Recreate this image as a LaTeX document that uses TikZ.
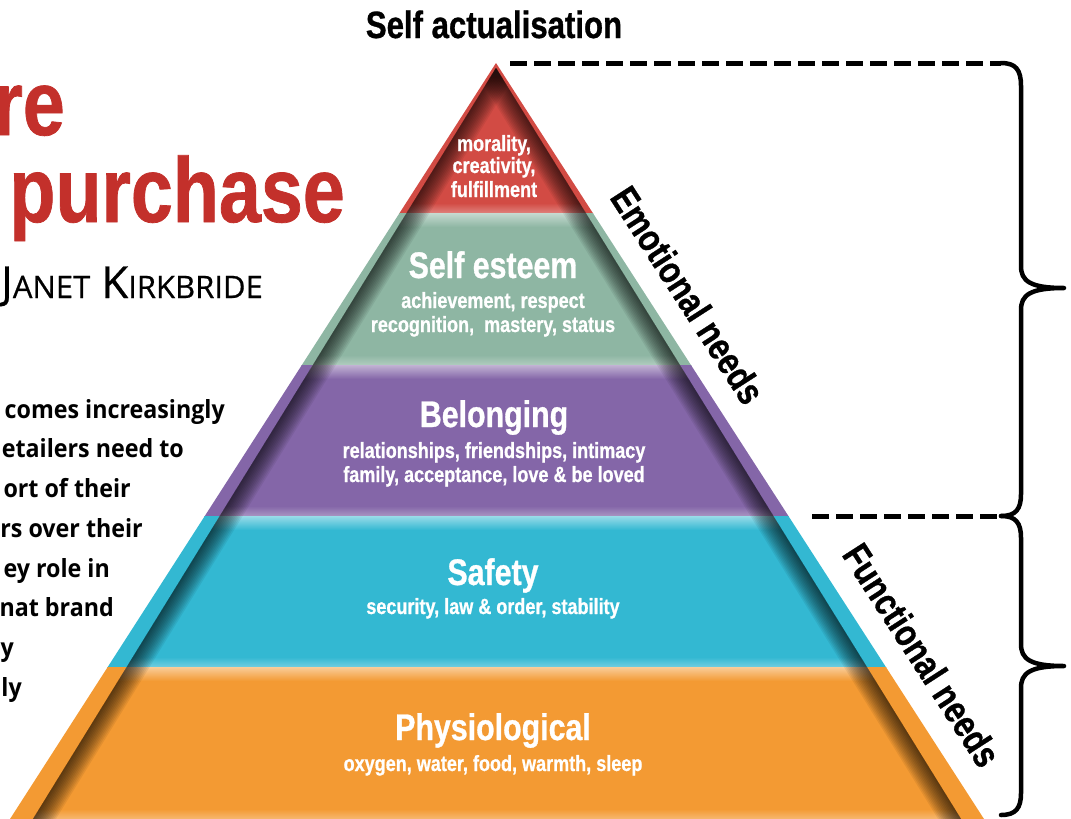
\documentclass[tikz,border=0pt]{standalone}
\usepackage{fontspec}
\newfontfamily\condfont[FakeStretch=0.82, BoldFeatures={FakeBold=0.8}]{Liberation Sans}
\newfontfamily\bodyfont[FakeStretch=0.93]{Open Sans}
\newfontfamily\bylinefont[FakeBold=0.6]{Open Sans}

\definecolor{lvlred}{HTML}{D24B44}
\definecolor{lvlgreen}{HTML}{8EB6A3}
\definecolor{lvlpurple}{HTML}{8466A8}
\definecolor{lvlcyan}{HTML}{33B8D2}
\definecolor{lvlorange}{HTML}{F39A33}
\definecolor{titlered}{HTML}{C3302B}

\tikzset{
  bigcond/.style={inner sep=0pt, font=\condfont\bfseries\fontsize{38}{38}\selectfont},
  lvltitle/.style={inner sep=0pt, text=white, font=\condfont\bfseries\fontsize{37}{37}\selectfont},
  lvlsub/.style={inner sep=0pt, text=white, font=\condfont\bfseries\fontsize{22}{22}\selectfont},
  headline/.style={inner sep=0pt, text=titlered, font=\condfont\bfseries\fontsize{92}{92}\selectfont},
  bodytxt/.style={inner sep=0pt, font=\bodyfont\bfseries\fontsize{25}{25}\selectfont},
  dashline/.style={line width=5pt, dash pattern=on 17pt off 7pt},
  bracestyle/.style={line width=4.5pt, line cap=round, line join=round},
}

% one band of the pyramid: #1 top y, #2 bottom y, #3 colour
\newcommand\pyrlayer[3]{%
  \begin{scope}
    \clip (0,#1) rectangle (1071,#2);
    \fill[#3] (apex) -- (bl) -- (br) -- cycle;
    \begin{scope}
      \clip (ia) -- (ibl) -- (ibr) -- cycle;
      \shade[top color=#3!50!white, bottom color=#3] (0,#1) rectangle (1071,#1+14);
      \shade[top color=#3, bottom color=#3!70!white] (0,#2-10) rectangle (1071,#2);
      \foreach \w in {3,6,...,39} {
        \draw[black, opacity=0.065, line width=\w pt] (ia) -- (ibl);
        \draw[black, opacity=0.065, line width=\w pt] (ia) -- (ibr);
      }
    \end{scope}
  \end{scope}}

\begin{document}
\begin{tikzpicture}[x=1pt,y=-1pt]
\useasboundingbox (0,0) rectangle (1071,819);

% outer and inner outline of the pyramid
\coordinate (apex) at (496,63);
\coordinate (bl) at (10,819);
\coordinate (br) at (984,819);
\coordinate (ia) at (496,68);
\coordinate (ibl) at (7.7,860);
\coordinate (ibr) at (986.4,860);

\pyrlayer{63}{213}{lvlred}
\pyrlayer{213}{365}{lvlgreen}
\pyrlayer{365}{516}{lvlpurple}
\pyrlayer{516}{667}{lvlcyan}
\pyrlayer{667}{819}{lvlorange}

% level labels
\node[lvlsub, anchor=base] (m1) at (494,151) {morality,};
\node[lvlsub, anchor=base] (m2) at (494,173) {creativity,};
\node[lvlsub, anchor=base] (m3) at (494,197) {fulfillment};

\node[lvltitle, anchor=base] (esteem) at (493,278) {Self esteem};
\node[lvlsub, anchor=base] (e1) at (493,308) {achievement, respect};
\node[lvlsub, anchor=base] (e2) at (493,332) {recognition,~ mastery, status};

\node[lvltitle, anchor=base] (belong) at (494,427) {Belonging};
\node[lvlsub, anchor=base] (b1) at (494,458) {relationships, friendships, intimacy};
\node[lvlsub, anchor=base] (b2) at (494,482) {family, acceptance, love \& be loved};

\node[lvltitle, anchor=base] (safety) at (493,585) {Safety};
\node[lvlsub, anchor=base] (s1) at (493,614) {security, law \& order, stability};

\node[lvltitle, anchor=base] (physio) at (493,740) {Physiological};
\node[lvlsub, anchor=base] (p1) at (493,771) {oxygen, water, food, warmth, sleep};

% top label and side labels
\node[bigcond, anchor=base] (selfact) at (494,38) {Self actualisation};
\node[bigcond, rotate=-57.2] (emo) at (688,295) {Emotional needs};
\node[bigcond, rotate=-57.2] (func) at (922,655) {Functional needs};

% dashed guides and braces
\coordinate (d1s) at (510,63);
\coordinate (d1e) at (1001,63);
\coordinate (d2s) at (812,516);
\coordinate (d2e) at (1001,516);
\coordinate (tip1) at (1064,288);
\coordinate (tip2) at (1064,666);
\coordinate (end2) at (1001,815);

\draw[dashline] (d1s) -- (d1e);
\draw[dashline] (d2s) -- (d2e);

\draw[bracestyle] (d1e) .. controls (1016,63) and (1021,70) .. (1021,86)
  -- (1021,266) .. controls (1021,281) and (1030,288) .. (tip1)
  .. controls (1030,288) and (1021,295) .. (1021,310)
  -- (1021,494) .. controls (1021,509) and (1016,516) .. (d2e);
\draw[bracestyle] (d2e) .. controls (1016,516) and (1021,523) .. (1021,538)
  -- (1021,644) .. controls (1021,659) and (1030,666) .. (tip2)
  .. controls (1030,666) and (1021,673) .. (1021,688)
  -- (1021,793) .. controls (1021,808) and (1016,815) .. (end2);

% headline and byline
\node[headline, anchor=base east] (hl1) at (65,135) {re};
\node[headline, anchor=base east] (hl2) at (345,222) {purchase};
\node[inner sep=0pt, anchor=base east, font=\bylinefont] (byline) at (263,298)
  {{\fontsize{44}{44}\selectfont J}{\fontsize{31}{31}\selectfont ANET}\hspace{11pt}{\fontsize{44}{44}\selectfont K}{\fontsize{31}{31}\selectfont IRKBRIDE}};

% body copy
\node[bodytxt, anchor=base east] (c1) at (225,418) {comes increasingly};
\node[bodytxt, anchor=base east] (c2) at (184,457) {etailers need to};
\node[bodytxt, anchor=base east] (c3) at (131,497) {ort of their};
\node[bodytxt, anchor=base east] (c4) at (143,537) {rs over their};
\node[bodytxt, anchor=base east] (c5) at (110,577) {ey role in};
\node[bodytxt, anchor=base east] (c6) at (114,616) {nat brand};
\node[bodytxt, anchor=base east] (c7) at (14,656) {y};
\node[bodytxt, anchor=base east] (c8) at (22,696) {ly};
\end{tikzpicture}
\end{document}
